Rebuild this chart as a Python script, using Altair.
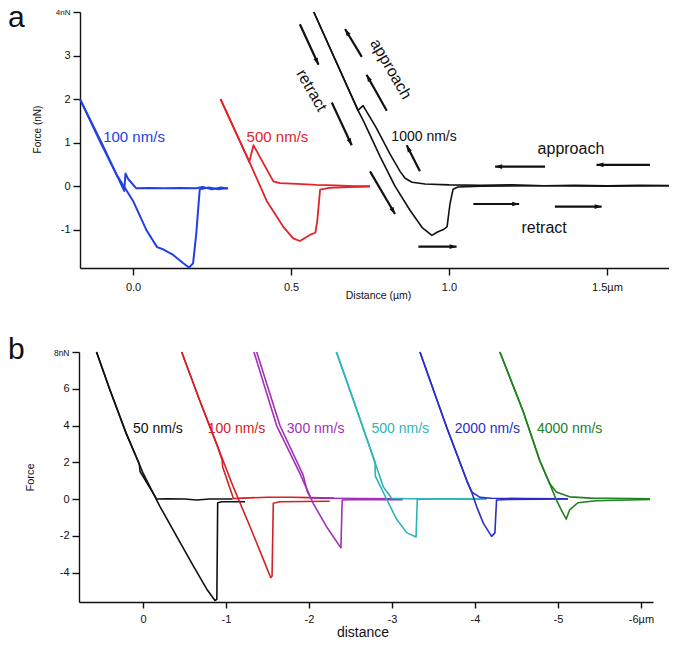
import altair as alt
import pandas as pd
import numpy as np

FONT = "Liberation Sans"
W, H = 661, 632

# ---------------- panel a data (distance in um, force in nN) ----------------
a_speeds = ["100 nm/s", "500 nm/s", "1000 nm/s"]
a_colors = ["#2340e6", "#e3232a", "#111111"]
a_widths = [2.0, 1.6, 1.3]

a100_app_x = [-0.168, -0.10, -0.028, -0.024, -0.016, 0.010, 0.05, 0.10, 0.15, 0.20, 0.22, 0.25, 0.28, 0.30]
a100_app_y = [2.00, 1.00, -0.11, 0.29, 0.17, -0.05, -0.04, -0.05, -0.04, -0.05, -0.02, -0.07, -0.03, -0.06]
a100_ret_x = [-0.168, -0.104, -0.052, 0.0, 0.043, 0.076, 0.095, 0.127, 0.159, 0.177, 0.190, 0.200, 0.211, 0.24, 0.27, 0.30]
a100_ret_y = [2.00, 1.02, 0.26, -0.34, -1.02, -1.40, -1.45, -1.58, -1.77, -1.87, -1.77, -1.09, -0.07, -0.03, -0.07, -0.04]

a500_app_x = [0.277, 0.368, 0.381, 0.444, 0.465, 0.52, 0.58, 0.64, 0.70, 0.75]
a500_app_y = [2.00, 0.56, 0.94, 0.11, 0.07, 0.05, 0.03, 0.02, 0.0, 0.0]
a500_ret_x = [0.277, 0.368, 0.423, 0.476, 0.507, 0.528, 0.549, 0.565, 0.577, 0.583, 0.592, 0.62, 0.68, 0.75]
a500_ret_y = [2.00, 0.56, -0.34, -0.94, -1.20, -1.26, -1.17, -1.10, -1.07, -0.80, -0.08, -0.04, -0.02, -0.01]

a1000_app_x = [0.572, 0.712, 0.728, 0.769, 0.813, 0.845, 0.861, 0.883, 0.924, 1.0, 1.1, 1.2, 1.3, 1.4, 1.5, 1.6, 1.709]
a1000_app_y = [4.00, 1.74, 1.85, 1.35, 0.74, 0.34, 0.18, 0.09, 0.05, 0.03, 0.02, 0.03, 0.01, 0.02, 0.01, 0.02, 0.01]
a1000_ret_x = [0.572, 0.712, 0.731, 0.782, 0.829, 0.877, 0.915, 0.946, 0.962, 0.984, 0.994, 1.003, 1.013, 1.028, 1.1, 1.3, 1.5, 1.709]
a1000_ret_y = [4.00, 1.74, 1.47, 0.68, 0.0, -0.56, -0.95, -1.13, -1.06, -0.99, -0.93, -0.41, -0.07, -0.02, 0.0, 0.01, 0.0, 0.01]

# annotation arrows of panel a: tail -> head
arrow_tx = [0.528, 0.629, 0.750, 0.724, 0.803, 0.908, 0.903, 1.304, 1.636, 1.077, 1.335]
arrow_ty = [3.72, 1.92, 0.34, 2.97, 1.73, 0.34, -1.39, 0.45, 0.49, -0.41, -0.47]
arrow_hx = [0.587, 0.692, 0.829, 0.671, 0.739, 0.866, 1.024, 1.146, 1.467, 1.222, 1.483]
arrow_hy = [2.79, 0.94, -0.64, 3.61, 2.56, 0.94, -1.39, 0.45, 0.49, -0.41, -0.47]

# panel a labels
a_lab_text = ["100 nm/s", "500 nm/s", "1000 nm/s", "approach", "retract", "approach", "retract"]
a_lab_x = [0.003, 0.457, 0.921, 1.386, 1.301, 0.816, 0.565]
a_lab_y = [1.13, 1.13, 1.13, 0.86, -0.95, 2.69, 2.20]
a_lab_color = ["#2340e6", "#e3232a", "#111111", "#111111", "#111111", "#111111", "#111111"]
a_lab_size = [15, 15, 14, 16, 16, 16, 16]
a_lab_angle = [0, 0, 0, 0, 0, 60, 60]

# ---------------- panel b data (distance in um, force in nN) ----------------
b_speeds = ["50 nm/s", "100 nm/s", "300 nm/s", "500 nm/s", "2000 nm/s", "4000 nm/s"]
b_colors = ["#111111", "#d62024", "#a32fb8", "#2bb5b8", "#2a2ec8", "#21801f"]

b50_app_x = [0.56, 0.40, 0.20, 0.045, 0.035, -0.165, -0.3, -0.5, -0.65, -0.8, -1.08]
b50_app_y = [8.0, 5.95, 3.53, 1.92, 1.50, 0.0, 0.02, 0.0, -0.05, 0.0, 0.0]
b50_ret_x = [0.56, 0.398, 0.197, -0.004, -0.205, -0.406, -0.606, -0.767, -0.867, -0.89, -0.90, -0.95, -1.23]
b50_ret_y = [8.0, 5.95, 3.53, 1.38, -0.41, -2.03, -3.64, -4.89, -5.52, -5.45, -0.20, -0.15, -0.15]

b100_app_x = [-0.466, -0.687, -0.888, -0.955, -0.96, -1.09, -1.2, -1.5, -1.8, -2.0, -2.3]
b100_app_y = [8.0, 5.32, 2.99, 2.10, 1.75, 0.03, 0.05, 0.10, 0.10, 0.08, 0.05]
b100_ret_x = [-0.466, -0.687, -0.888, -1.088, -1.289, -1.45, -1.538, -1.555, -1.57, -1.65, -2.25]
b100_ret_y = [8.0, 5.32, 2.99, 0.66, -1.49, -3.28, -4.27, -4.20, -0.23, -0.15, -0.12]

b300_app_x = [-1.37, -1.65, -1.93, -1.98, -2.02, -2.2, -2.6, -3.1]
b300_app_y = [8.0, 4.0, 1.3, 0.4, 0.06, 0.04, 0.03, 0.02]
b300_ret_x = [-1.337, -1.61, -1.892, -2.05, -2.21, -2.37, -2.385, -2.40, -2.6, -3.13]
b300_ret_y = [8.0, 4.0, 1.38, -0.23, -1.49, -2.56, -2.65, -0.05, -0.02, -0.03]

b500_app_x = [-2.33, -2.54, -2.795, -2.896, -2.996, -3.2, -3.6, -4.14]
b500_app_y = [8.0, 5.32, 2.0, 0.66, 0.04, 0.02, 0.01, 0.0]
b500_ret_x = [-2.33, -2.54, -2.795, -2.80, -2.94, -3.06, -3.18, -3.29, -3.305, -3.5, -4.14]
b500_ret_y = [8.0, 5.32, 2.0, 1.25, -0.05, -1.13, -1.84, -2.06, -0.02, 0.0, 0.0]

b2000_app_x = [-3.337, -3.66, -3.90, -3.96, -4.06, -4.2, -4.6, -5.12]
b2000_app_y = [8.0, 3.89, 1.02, 0.39, 0.09, 0.04, 0.03, 0.02]
b2000_ret_x = [-3.337, -3.66, -3.90, -3.96, -4.02, -4.10, -4.20, -4.24, -4.26, -4.4, -5.12]
b2000_ret_y = [8.0, 3.89, 1.02, 0.39, -0.41, -1.31, -2.03, -1.84, -0.05, -0.02, 0.0]

b4000_app_x = [-4.30, -4.58, -4.78, -4.90, -4.98, -5.14, -5.4, -6.11]
b4000_app_y = [8.0, 4.78, 2.10, 0.84, 0.39, 0.12, 0.05, 0.02]
b4000_ret_x = [-4.30, -4.58, -4.78, -4.90, -4.98, -5.06, -5.10, -5.14, -5.24, -5.46, -6.11]
b4000_ret_y = [8.0, 4.78, 2.10, 0.84, -0.05, -0.77, -1.09, -0.59, -0.20, -0.09, -0.02]

b_lab_x = [-0.18, -1.127, -2.08, -3.10, -4.15, -5.14]
b_lab_y = [3.82, 3.82, 3.82, 3.82, 3.82, 3.82]

# ---------------- build tables ----------------
def traces_df(traces):
    rows = []
    for speed, branch, xs, ys in traces:
        for i, (x, y) in enumerate(zip(xs, ys)):
            rows.append(dict(speed=speed, trace=speed + " " + branch, i=i, x=x, y=y))
    return pd.DataFrame(rows)

dfA = traces_df([
    ("100 nm/s", "approach", a100_app_x, a100_app_y),
    ("100 nm/s", "retract", a100_ret_x, a100_ret_y),
    ("500 nm/s", "approach", a500_app_x, a500_app_y),
    ("500 nm/s", "retract", a500_ret_x, a500_ret_y),
    ("1000 nm/s", "approach", a1000_app_x, a1000_app_y),
    ("1000 nm/s", "retract", a1000_ret_x, a1000_ret_y),
])
dfB = traces_df([
    ("50 nm/s", "approach", b50_app_x, b50_app_y),
    ("50 nm/s", "retract", b50_ret_x, b50_ret_y),
    ("100 nm/s", "approach", b100_app_x, b100_app_y),
    ("100 nm/s", "retract", b100_ret_x, b100_ret_y),
    ("300 nm/s", "approach", b300_app_x, b300_app_y),
    ("300 nm/s", "retract", b300_ret_x, b300_ret_y),
    ("500 nm/s", "approach", b500_app_x, b500_app_y),
    ("500 nm/s", "retract", b500_ret_x, b500_ret_y),
    ("2000 nm/s", "approach", b2000_app_x, b2000_app_y),
    ("2000 nm/s", "retract", b2000_ret_x, b2000_ret_y),
    ("4000 nm/s", "approach", b4000_app_x, b4000_app_y),
    ("4000 nm/s", "retract", b4000_ret_x, b4000_ret_y),
])

# ---------------- panel a ----------------
A_XD, A_XR = [-0.168, 1.709], [72, 665]
A_YD, A_YR = [-1.88, 4.0], [260, 4]
kx = (A_XR[1] - A_XR[0]) / (A_XD[1] - A_XD[0])
ky = (A_YR[0] - A_YR[1]) / (A_YD[1] - A_YD[0])

def ax_scale():
    return alt.Scale(domain=A_XD, range=A_XR, nice=False, zero=False)

def ay_scale():
    return alt.Scale(domain=A_YD, range=A_YR, nice=False, zero=False)

axA_x = alt.Axis(orient="bottom", offset=A_YR[0] - H, values=[0, 0.5, 1.0, 1.5],
                 labelExpr="datum.value == 1.5 ? '1.5µm' : format(datum.value, '.1f')",
                 title="Distance (µm)", titleX=370, titleY=27, titleAngle=0,
                 titleAlign="center", titleBaseline="middle", titleFontSize=10.5,
                 tickSize=7, labelPadding=6, labelFlush=False, labelFontSize=11)
axA_y = alt.Axis(orient="left", offset=-A_XR[0], values=[-1, 0, 1, 2, 3, 4],
                 labelExpr="datum.value == 4 ? '4nN' : toString(datum.value)",
                 labelFontSize={"condition": {"test": "datum.value == 4", "value": 8}, "value": 11},
                 title="Force (nN)", titleX=-43, titleY=121, titleAngle=270,
                 titleAlign="center", titleBaseline="middle", titleFontSize=10,
                 tickSize=7, labelPadding=3)

layers = []

layers.append(alt.Chart(dfA).mark_line(strokeJoin="round").encode(
    x=alt.X("x:Q", scale=ax_scale(), axis=axA_x),
    y=alt.Y("y:Q", scale=ay_scale(), axis=axA_y),
    color=alt.Color("speed:N", scale=alt.Scale(domain=a_speeds, range=a_colors), legend=None),
    strokeWidth=alt.StrokeWidth("speed:N", scale=alt.Scale(domain=a_speeds, range=a_widths), legend=None),
    detail="trace:N",
    order="i:Q",
))

arr = pd.DataFrame({"tx": arrow_tx, "ty": arrow_ty, "hx": arrow_hx, "hy": arrow_hy})
arr["ang"] = (np.degrees(np.arctan2((arr.hx - arr.tx) * kx, (arr.hy - arr.ty) * ky)) + 360) % 360

layers.append(alt.Chart(arr).mark_rule(color="#111111", strokeWidth=2.2, strokeCap="butt").encode(
    x=alt.X("tx:Q", scale=ax_scale(), axis=None),
    y=alt.Y("ty:Q", scale=ay_scale(), axis=None),
    x2="hx:Q", y2="hy:Q",
))
layers.append(alt.Chart(arr).mark_point(
    shape="M0,0L0.6,1.8L-0.6,1.8Z", filled=True, size=60, color="#111111", opacity=1, strokeWidth=0
).encode(
    x=alt.X("hx:Q", scale=ax_scale(), axis=None),
    y=alt.Y("hy:Q", scale=ay_scale(), axis=None),
    angle=alt.Angle("ang:Q", scale=None),
))

for t, x, y, c, s, a in zip(a_lab_text, a_lab_x, a_lab_y, a_lab_color, a_lab_size, a_lab_angle):
    kw = dict(font=FONT, fontSize=s, color=c, align="center", baseline="middle")
    if a:
        kw["angle"] = a
    layers.append(
        alt.Chart(pd.DataFrame({"x": [x], "y": [y], "t": [t]})).mark_text(**kw).encode(
            x=alt.X("x:Q", scale=ax_scale(), axis=None),
            y=alt.Y("y:Q", scale=ay_scale(), axis=None),
            text="t:N",
        )
    )

layers.append(alt.Chart(pd.DataFrame({"t": ["a"]})).mark_text(
    font=FONT, fontSize=30, color="#111111", align="left", baseline="alphabetic"
).encode(x=alt.value(0), y=alt.value(19), text="t:N"))

# ---------------- panel b ----------------
B_XD, B_XR = [-6.145, 0.771], [645, 71]
B_YD, B_YR = [-5.6, 8.0], [594, 344]

def bx_scale():
    return alt.Scale(domain=B_XD, range=B_XR, nice=False, zero=False)

def by_scale():
    return alt.Scale(domain=B_YD, range=B_YR, nice=False, zero=False)

axB_x = alt.Axis(orient="bottom", offset=B_YR[0] - H, values=[0, -1, -2, -3, -4, -5, -6],
                 labelExpr="datum.value == -6 ? '-6µm' : toString(datum.value)",
                 title="distance", titleX=354.5, titleY=30, titleAngle=0,
                 titleAlign="center", titleBaseline="middle", titleFontSize=14,
                 tickSize=6, labelPadding=5, labelFlush=False, labelFontSize=11)
axB_y = alt.Axis(orient="left", offset=-B_XR[1], values=[-4, -2, 0, 2, 4, 6, 8],
                 labelExpr="datum.value == 8 ? '8nN' : toString(datum.value)",
                 labelFontSize={"condition": {"test": "datum.value == 8", "value": 8.5}, "value": 11},
                 title="Force", titleX=-49, titleY=469, titleAngle=270,
                 titleAlign="center", titleBaseline="middle", titleFontSize=11,
                 tickSize=7, labelPadding=3)

layers.append(alt.Chart(dfB).mark_line(strokeJoin="round", strokeWidth=1.6).encode(
    x=alt.X("x:Q", scale=bx_scale(), axis=axB_x),
    y=alt.Y("y:Q", scale=by_scale(), axis=axB_y),
    color=alt.Color("speed:N", scale=alt.Scale(domain=b_speeds, range=b_colors), legend=None),
    detail="trace:N",
    order="i:Q",
))

for t, x, y, c in zip(b_speeds, b_lab_x, b_lab_y, b_colors):
    layers.append(
        alt.Chart(pd.DataFrame({"x": [x], "y": [y], "t": [t]})).mark_text(
            font=FONT, fontSize=14, color=c, align="center", baseline="middle"
        ).encode(
            x=alt.X("x:Q", scale=bx_scale(), axis=None),
            y=alt.Y("y:Q", scale=by_scale(), axis=None),
            text="t:N",
        )
    )

layers.append(alt.Chart(pd.DataFrame({"t": ["b"]})).mark_text(
    font=FONT, fontSize=30, color="#111111", align="left", baseline="alphabetic"
).encode(x=alt.value(0), y=alt.value(351), text="t:N"))

chart = alt.layer(*layers).resolve_scale(
    x="independent", y="independent", color="independent", strokeWidth="independent"
).properties(
    width=W, height=H, autosize=alt.AutoSizeParams(type="none"), padding=0
).configure_view(stroke=None).configure_axis(
    grid=False, labelFont=FONT, titleFont=FONT, titleFontWeight="normal",
    labelColor="#111111", titleColor="#111111", domainColor="#111111", tickColor="#111111",
    domainWidth=1.4, tickWidth=1.4,
)

chart.save("out.html", embed_options={"renderer": "svg", "actions": False})
